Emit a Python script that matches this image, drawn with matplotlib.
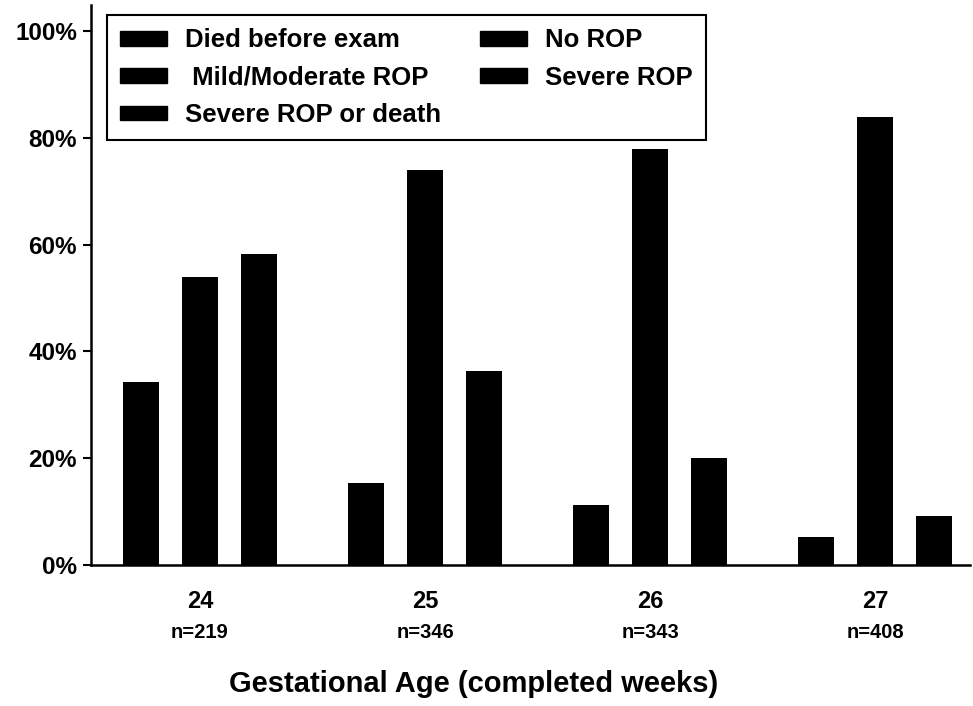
import matplotlib
matplotlib.use("Agg")
import matplotlib.pyplot as plt
from matplotlib.patches import Patch
from matplotlib.transforms import blended_transform_factory
import numpy as np

plt.rcParams['font.family'] = ['Liberation Sans', 'DejaVu Sans']
plt.rcParams['font.weight'] = 'bold'

ages = ["24", "25", "26", "27"]
n_labels = ["n=219", "n=346", "n=343", "n=408"]
died_before_exam = [34.3, 15.4, 11.3, 5.3]
no_rop = [6, 16, 30, 46]
mild_moderate_rop = [29, 44, 33, 35]
severe_rop = [19, 14, 15, 3]
severe_rop_or_death = [58.2, 36.4, 20.0, 9.2]
yticks = [0, 20, 40, 60, 80, 100]

W, H = 973, 706
fig = plt.figure(figsize=(W/100, H/100), dpi=100)
ax = fig.add_axes([91/W, 141/H, (970-91)/W, (565-5)/H])

x = np.arange(len(ages))
off = 0.262
w = 0.16
col = 'black'

ax.bar(x - off, died_before_exam, w, color=col, linewidth=0)
ax.bar(x, no_rop, w, color=col, linewidth=0)
ax.bar(x, mild_moderate_rop, w, bottom=no_rop, color=col, linewidth=0)
bot2 = np.array(no_rop) + np.array(mild_moderate_rop)
ax.bar(x, severe_rop, w, bottom=bot2, color=col, linewidth=0)
ax.bar(x + off, severe_rop_or_death, w, color=col, linewidth=0)

ax.set_xlim(-0.484, 3.42)
ax.set_ylim(0, 104.9)
ax.set_yticks(yticks)
ax.set_yticklabels([f"{v}%" for v in yticks], fontsize=17.5, fontweight='bold')
ax.tick_params(axis='y', direction='out', length=6, width=1.5, pad=4)
ax.set_xticks([])
for s in ['top', 'right']:
    ax.spines[s].set_visible(False)
ax.spines['left'].set_linewidth(1.8)
ax.spines['bottom'].set_linewidth(1.8)

tr = blended_transform_factory(ax.transData, fig.transFigure)
for i in range(len(ages)):
    ax.text(x[i], 1 - 601/H, ages[i], transform=tr, ha='center', va='center',
            fontsize=17, fontweight='bold')
    ax.text(x[i], 1 - 633/H, n_labels[i], transform=tr, ha='center', va='center',
            fontsize=14.5, fontweight='bold')

fig.text(474/W, 1 - 684/H, "Gestational Age (completed weeks)", ha='center',
         va='center', fontsize=21, fontweight='bold')

handles = [Patch(facecolor=col, edgecolor=col) for _ in range(5)]
labels = ["Died before exam", " Mild/Moderate ROP", "Severe ROP or death",
          "No ROP", "Severe ROP"]
leg = ax.legend(handles, labels, ncol=2, loc='upper left',
                bbox_to_anchor=(107/W, 1 - 15/H), bbox_transform=fig.transFigure,
                prop={'family': 'Liberation Sans', 'weight': 'bold', 'size': 18.5},
                frameon=True, fancybox=False, edgecolor='black', framealpha=1,
                handlelength=1.83, handleheight=0.5, labelspacing=0.52,
                columnspacing=1.5, handletextpad=0.7, borderpad=0.52,
                borderaxespad=0)
leg.get_frame().set_linewidth(1.5)

fig.savefig("out.png", dpi=100, facecolor='white')
